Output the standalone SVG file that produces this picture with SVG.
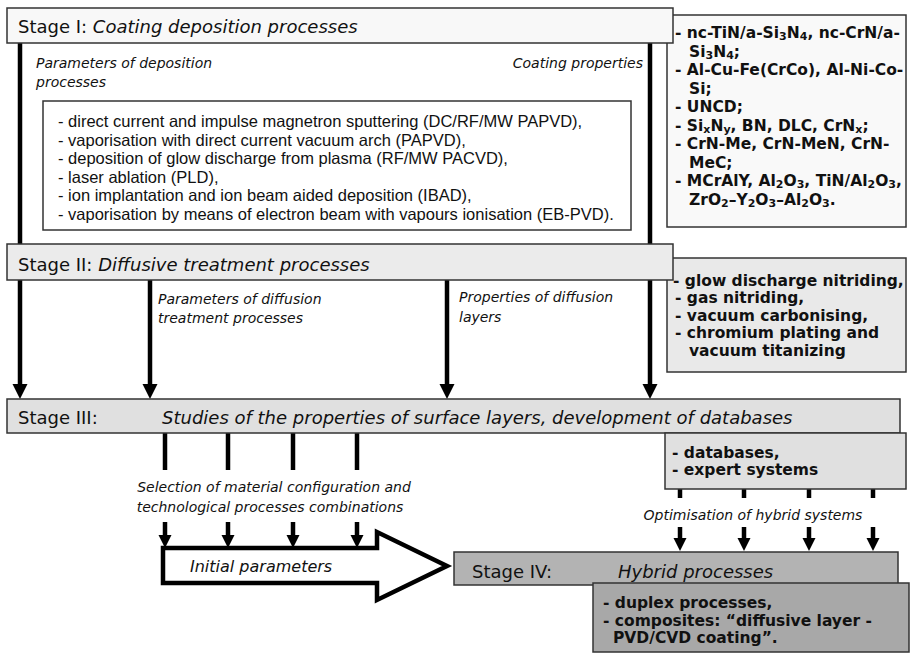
<svg xmlns="http://www.w3.org/2000/svg" width="911" height="653" viewBox="0 0 911 653">
<defs>
<style>
.box{stroke:#333;stroke-width:1.5}
.title{font-family:"DejaVu Sans",sans-serif;font-size:18px;fill:#111}
.it{font-style:italic}
.lbl{font-family:"DejaVu Sans",sans-serif;font-size:14px;font-style:italic;fill:#111}
.list{font-family:"Liberation Sans",Arial,sans-serif;font-size:16.5px;fill:#111}
.bold{font-family:"DejaVu Sans",sans-serif;font-size:15.5px;font-weight:bold;fill:#111}
.ln{stroke:#000;stroke-width:4.5;fill:none}
.sub{font-size:11px;baseline-shift:-2px}
</style>
<marker id="ah" markerUnits="userSpaceOnUse" markerWidth="16" markerHeight="16" refX="0" refY="7.5" orient="auto" viewBox="0 0 16 16">
<path d="M0,0 L15,7.5 L0,15 z" fill="#000"/>
</marker>
<marker id="ahs" markerUnits="userSpaceOnUse" markerWidth="14" markerHeight="14" refX="0" refY="6.5" orient="auto" viewBox="0 0 14 14">
<path d="M0,0 L13,6.5 L0,13 z" fill="#000"/>
</marker>
</defs>
<rect width="911" height="653" fill="#fff"/>

<g id="connectors">
<line class="ln" x1="20" y1="43" x2="20" y2="384" marker-end="url(#ah)"/>
<line class="ln" x1="650" y1="43" x2="650" y2="384" marker-end="url(#ah)"/>
<line class="ln" x1="150" y1="280" x2="150" y2="384" marker-end="url(#ah)"/>
<line class="ln" x1="447" y1="280" x2="447" y2="384" marker-end="url(#ah)"/>
<line class="ln" x1="165" y1="433" x2="165" y2="470"/>
<line class="ln" x1="228" y1="433" x2="228" y2="470"/>
<line class="ln" x1="293" y1="433" x2="293" y2="470"/>
<line class="ln" x1="357" y1="433" x2="357" y2="470"/>
<line class="ln" x1="165" y1="522" x2="165" y2="535" marker-end="url(#ahs)"/>
<line class="ln" x1="228" y1="522" x2="228" y2="535" marker-end="url(#ahs)"/>
<line class="ln" x1="293" y1="522" x2="293" y2="535" marker-end="url(#ahs)"/>
<line class="ln" x1="357" y1="522" x2="357" y2="535" marker-end="url(#ahs)"/>
<line class="ln" x1="680" y1="489" x2="680" y2="498"/>
<line class="ln" x1="744" y1="489" x2="744" y2="498"/>
<line class="ln" x1="809" y1="489" x2="809" y2="498"/>
<line class="ln" x1="873" y1="489" x2="873" y2="498"/>
<line class="ln" x1="680" y1="527" x2="680" y2="538" marker-end="url(#ahs)"/>
<line class="ln" x1="744" y1="527" x2="744" y2="538" marker-end="url(#ahs)"/>
<line class="ln" x1="809" y1="527" x2="809" y2="538" marker-end="url(#ahs)"/>
<line class="ln" x1="873" y1="527" x2="873" y2="538" marker-end="url(#ahs)"/>
<text class="lbl" x="36" y="68">Parameters of deposition</text>
<text class="lbl" x="36" y="87">processes</text>
<text class="lbl" x="643" y="68" text-anchor="end">Coating properties</text>
<text class="lbl" x="158" y="304">Parameters of diffusion</text>
<text class="lbl" x="158" y="323">treatment processes</text>
<text class="lbl" x="459" y="302">Properties of diffusion</text>
<text class="lbl" x="459" y="322">layers</text>
<text class="lbl" x="274" y="492" text-anchor="middle">Selection of material configuration and</text>
<text class="lbl" x="270" y="512" text-anchor="middle">technological processes combinations</text>
<text class="lbl" x="753" y="520" text-anchor="middle">Optimisation of hybrid systems</text>
</g>

<g id="box-coatings">
<rect class="box" x="667" y="15" width="239" height="212" fill="#f9f9f9"/>
<text class="bold" x="675" y="38">- nc-TiN/a-Si<tspan class="sub">3</tspan>N<tspan class="sub">4</tspan>, nc-CrN/a-</text>
<text class="bold" x="689" y="56.5">Si<tspan class="sub">3</tspan>N<tspan class="sub">4</tspan>;</text>
<text class="bold" x="675" y="75">- Al-Cu-Fe(CrCo), Al-Ni-Co-</text>
<text class="bold" x="689" y="93.5">Si;</text>
<text class="bold" x="675" y="112">- UNCD;</text>
<text class="bold" x="675" y="130.5">- Si<tspan class="sub">x</tspan>N<tspan class="sub">y</tspan>, BN, DLC, CrN<tspan class="sub">x</tspan>;</text>
<text class="bold" x="675" y="149">- CrN-Me, CrN-MeN, CrN-</text>
<text class="bold" x="689" y="167.5">MeC;</text>
<text class="bold" x="675" y="186">- MCrAlY, Al<tspan class="sub">2</tspan>O<tspan class="sub">3</tspan>, TiN/Al<tspan class="sub">2</tspan>O<tspan class="sub">3</tspan>,</text>
<text class="bold" x="689" y="204.5">ZrO<tspan class="sub">2</tspan>–Y<tspan class="sub">2</tspan>O<tspan class="sub">3</tspan>–Al<tspan class="sub">2</tspan>O<tspan class="sub">3</tspan>.</text>
</g>

<g id="stage1">
<rect class="box" x="7" y="8" width="666" height="35" fill="#f8f8f8"/>
<text class="title" x="18" y="33">Stage I: <tspan class="it">Coating deposition processes</tspan></text>
</g>

<g id="methods">
<rect class="box" x="43" y="101" width="588" height="129" fill="#fff"/>
<text class="list" x="58" y="127">- direct current and impulse magnetron sputtering (DC/RF/MW PAPVD),</text>
<text class="list" x="58" y="145.5">- vaporisation with direct current vacuum arch (PAPVD),</text>
<text class="list" x="58" y="164">- deposition of glow discharge from plasma (RF/MW PACVD),</text>
<text class="list" x="58" y="182.5">- laser ablation (PLD),</text>
<text class="list" x="58" y="201">- ion implantation and ion beam aided deposition (IBAD),</text>
<text class="list" x="58" y="219.5">- vaporisation by means of electron beam with vapours ionisation (EB-PVD).</text>
</g>

<g id="box-diffusion">
<rect class="box" x="667" y="258" width="239" height="114" fill="#e9e9e9"/>
<text class="bold" x="673" y="285.5">- glow discharge nitriding,</text>
<text class="bold" x="675" y="303">- gas nitriding,</text>
<text class="bold" x="675" y="320.5">- vacuum carbonising,</text>
<text class="bold" x="675" y="338">- chromium plating and</text>
<text class="bold" x="689" y="355.5">vacuum titanizing</text>
</g>

<g id="stage2">
<rect class="box" x="7" y="244" width="666" height="36" fill="#ebebeb"/>
<text class="title" x="18" y="271">Stage II: <tspan class="it">Diffusive treatment processes</tspan></text>
</g>

<g id="stage3">
<rect class="box" x="7" y="399" width="893" height="34" fill="#e0e0e0"/>
<text class="title" x="18" y="424">Stage III:</text>
<text class="title it" x="162" y="424">Studies of the properties of surface layers, development of databases</text>
</g>

<g id="box-databases">
<rect class="box" x="665" y="433" width="241" height="56" fill="#e0e0e0"/>
<text class="bold" x="672" y="457.5">- databases,</text>
<text class="bold" x="672" y="475">- expert systems</text>
</g>

<g id="initial-parameters">
<polygon points="163,548 377,548 377,532 447,566 377,600 377,583 163,583" fill="#fff" stroke="#000" stroke-width="4.5" stroke-linejoin="miter"/>
<text class="lbl" x="190" y="572" style="font-size:16px">Initial parameters</text>
</g>

<g id="stage4">
<rect class="box" x="454" y="552" width="444" height="33" fill="#b3b3b3"/>
<text class="title" x="472" y="578">Stage IV:</text>
<text class="title it" x="618" y="578">Hybrid processes</text>
</g>

<g id="box-hybrid">
<rect class="box" x="593" y="583" width="316" height="69" fill="#a8a8a8"/>
<text class="bold" x="603" y="607.5">- duplex processes,</text>
<text class="bold" x="603" y="625.5">- composites: “diffusive layer -</text>
<text class="bold" x="613" y="643">PVD/CVD coating”.</text>
</g>
</svg>
